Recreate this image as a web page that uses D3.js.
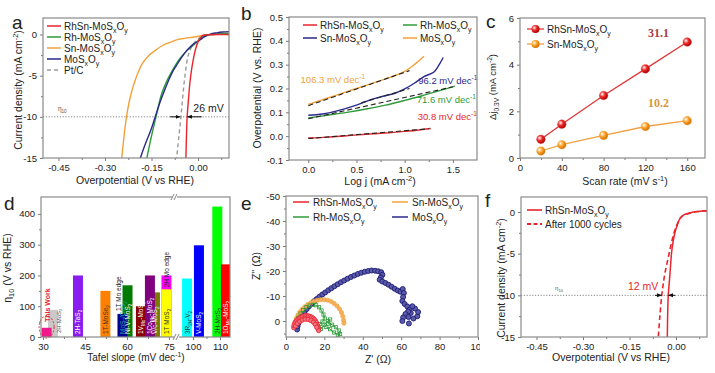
<!DOCTYPE html>
<html><head><meta charset="utf-8">
<script src="https://cdn.jsdelivr.net/npm/d3@7"></script>
<style>
body{margin:0;background:#fff;}
svg text{font-family:"Liberation Sans",Arial,sans-serif;fill:#222;}
</style></head><body>
<svg id="fig" width="715" height="373"></svg>
<script>
// ---------------- DATA ----------------
// panel a : LSV curves [V vs RHE, mA cm-2]
const namesA = ["RhSn-MoS_{x}O_{y}","Rh-MoS_{x}O_{y}","Sn-MoS_{x}O_{y}","MoS_{x}O_{y}","Pt/C"];
const lsvRhSn = [[0.1,0.0],[0.06,0.0],[0.03,-0.05],[0.015,-0.15],[0.008,-0.4],[0.0,-0.9],[-0.008,-1.8],[-0.015,-3.0],[-0.022,-4.6],[-0.027,-6.2],[-0.031,-8.0],[-0.035,-10.0],[-0.037,-12.0],[-0.039,-15.0]];
const lsvRh = [[0.1,0.15],[0.07,0.1],[0.04,0.0],[0.02,-0.15],[0.011,-0.4],[0.0,-0.8],[-0.015,-1.3],[-0.037,-2.0],[-0.06,-3.0],[-0.08,-4.2],[-0.1,-5.6],[-0.118,-7.3],[-0.133,-9.6],[-0.145,-11.5],[-0.155,-13.2],[-0.165,-15]];
const lsvSn = [[0.1,0.05],[0.05,0.0],[0.02,-0.1],[-0.011,-0.3],[-0.04,-0.45],[-0.064,-0.6],[-0.09,-0.95],[-0.117,-1.4],[-0.14,-2.0],[-0.16,-2.6],[-0.177,-3.4],[-0.191,-4.4],[-0.203,-5.6],[-0.213,-6.8],[-0.222,-8.2],[-0.229,-9.6],[-0.236,-11.5],[-0.241,-13.2],[-0.246,-15]];
const lsvMoS = [[0.1,0.35],[0.08,0.3],[0.06,0.2],[0.04,0.05],[0.02,-0.3],[0.005,-0.7],[-0.016,-1.2],[-0.035,-1.9],[-0.055,-2.9],[-0.07,-3.8],[-0.08,-4.4],[-0.095,-5.6],[-0.11,-7.0],[-0.125,-8.5],[-0.138,-10],[-0.152,-11.6],[-0.17,-13.3],[-0.186,-15]];
const lsvPt = [[0.1,0],[0.05,0],[0.02,-0.1],[0.005,-0.4],[-0.01,-0.9],[-0.021,-1.5],[-0.032,-2.6],[-0.042,-5],[-0.049,-7.5],[-0.055,-10],[-0.062,-12.5],[-0.069,-15]];
const ticksAx = [-0.45,-0.30,-0.15,0.00];
const ticksAy = [0,-5,-10,-15];
const eta10 = -10;
const gap26 = "26 mV";

// panel b : Tafel plots [log j, V]
const namesB = ["RhSn-MoS_{x}O_{y}","Rh-MoS_{x}O_{y}","Sn-MoS_{x}O_{y}","MoS_{x}O_{y}"];
const tafRhSn = [[0,-0.008],[0.2,-0.004],[0.4,0.002],[0.6,0.008],[0.8,0.013],[1.0,0.02],[1.15,0.026],[1.27,0.032]];
const tafRh = [[0,0.076],[0.2,0.088],[0.4,0.1],[0.6,0.114],[0.8,0.13],[1.0,0.15],[1.2,0.172],[1.4,0.195],[1.52,0.21]];
const tafSn = [[0,0.088],[0.15,0.093],[0.3,0.106],[0.5,0.13],[0.65,0.153],[0.75,0.165],[0.9,0.18],[1.0,0.198],[1.1,0.222],[1.2,0.25],[1.3,0.268],[1.35,0.295],[1.4,0.33]];
const tafMoS = [[0,0.133],[0.2,0.16],[0.4,0.187],[0.5,0.2],[0.6,0.213],[0.8,0.24],[1.0,0.272],[1.1,0.3],[1.2,0.335]];
const fitRhSn = [[0,-0.01],[1.25,0.031]];
const fitRh = [[0,0.073],[1.5,0.207]];
const fitSn = [[0.55,0.14],[1.05,0.2]];
const fitMoS = [[0,0.128],[1.05,0.275]];
const slopeLabels = ["30.8 mV dec^{-1}","71.6 mV dec^{-1}","96.2 mV dec^{-1}","106.3 mV dec^{-1}"];
const slopePos = [[1.135,0.068],[1.125,0.139],[1.14,0.219],[-0.08,0.223]];
const ticksBx = [0,0.5,1.0,1.5];
const ticksBy = [-0.1,0,0.1,0.2,0.3,0.4,0.5];

// panel c : double-layer
const namesC = ["RhSn-MoS_{x}O_{y}","Sn-MoS_{x}O_{y}"];
const scanRate = [20,40,80,120,160];
const djRhSn = [0.8,1.45,2.68,3.82,4.97];
const djSn = [0.3,0.57,0.97,1.35,1.6];
const cdlLabels = ["31.1","10.2"];
const ticksCx = [0,40,80,120,160];
const ticksCy = [0,2,4,6];

// panel d : comparison bars
const barLabels = ["2H-MoS_{2}","This Work","2H-TaS_{2}","1T-MoSe_{2}","Ni-V-MoS_{2}","MoS_{2}/CoS_{2}","1V_{Mo}-MoS_{2}","V/c-MoS_{2}","1Co_{Mo}-MoS_{2}","2H Mo edge","1T MoS_{2}","3R_{2H}-V_{2}","V-MoS_{2}","2H-MoS_{2}","1O_{Mo}-MoS_{2}"];
const barSlopes = [33.6,31.3,42.5,52.3,60.2,58.4,65,70,68.2,74.1,74.1,97.8,102.2,109,112.2];
const barEta = [88,30,200,150,168,75,100,145,200,200,155,190,298,424,236];
const barColors = ["#c9c9c9","#ee1a8c","#8b1cf0","#ff8000","#007a00","#00008f","#8b0000","#7a7a00","#800080","#ff00ff","#ffff00","#00ffff","#0000ff","#00ff00","#ff0000"];
const barTextColors = ["#555","#e8262d","#fff","#333","#fff","#2aa","#fff","#fff","#fff","#222","#333","#333","#fff","#333","#fff"];
const ticksDx = [30,45,60,75,100,110];
const ticksDy = [0,100,200,300,400];

// panel e : Nyquist [Z', Z'']
const namesE = ["RhSn-MoS_{x}O_{y}","Sn-MoS_{x}O_{y}","Rh-MoS_{x}O_{y}","MoS_{x}O_{y}"];
const nyqRhSn = [[4.0,2.6],[4.2,1.8],[4.5,1.0],[5.0,0.3],[5.6,-0.3],[6.3,-0.8],[7.0,-1.2],[7.8,-1.5],[8.6,-1.8],[9.4,-2.0],[10.2,-2.1],[11.0,-2.1],[11.8,-2.0],[12.6,-1.8],[13.4,-1.5],[14.1,-1.1],[14.8,-0.6],[15.4,0.0],[15.9,0.7],[16.3,1.5],[16.6,2.3],[16.8,3.1],[17.0,3.8],[5.0,2.0],[6.0,1.0],[7.2,0.2],[8.5,-0.4],[10.0,-0.7],[11.5,-0.6],[13.0,-0.2],[14.3,0.5],[15.3,1.4],[16.0,2.5]];
const nyqSn = [[4.4,1.5],[4.8,0.2],[5.4,-1.1],[6.2,-2.4],[7.2,-3.6],[8.4,-4.7],[9.8,-5.7],[11.3,-6.6],[12.9,-7.3],[14.6,-7.9],[16.4,-8.3],[18.2,-8.5],[20.0,-8.5],[21.8,-8.3],[23.5,-7.8],[25.1,-7.0],[26.6,-6.0],[27.9,-4.8],[28.9,-3.4],[29.6,-1.9],[30.0,-0.3],[30.2,0.9]];
const nyqRh = [[5.0,2.0],[5.5,0.5],[6.4,-1.3],[7.6,-3.0],[9.0,-4.4],[10.6,-5.5],[12.3,-6.2],[14.0,-6.5],[15.7,-6.3],[17.2,-5.5],[18.5,-4.2],[19.5,-2.6],[20.2,-1.0],[19.0,0.2],[17.6,1.2],[17.0,2.6],[18.2,3.2],[20.0,1.5],[21.8,0.0],[23.0,-0.6],[22.0,1.0],[24.0,1.5],[26.0,2.5],[27.5,3.8],[28.2,5.2],[27.0,5.6],[25.0,4.6],[23.0,3.3],[21.0,2.4]];
const nyqMoS = [[5.8,3.4],[6.0,2.2],[6.4,1.0],[7.0,-0.2],[7.8,-1.4],[8.7,-2.6],[9.7,-3.7],[10.8,-4.8],[12.0,-5.9],[13.3,-6.9],[14.6,-7.9],[16.0,-8.8],[17.4,-9.7],[18.9,-10.6],[20.4,-11.4],[22.0,-12.3],[23.6,-13.1],[25.2,-13.9],[26.9,-14.7],[28.6,-15.5],[30.3,-16.2],[32.0,-16.9],[33.8,-17.6],[35.6,-18.2],[37.4,-18.8],[39.2,-19.3],[41.0,-19.7],[42.8,-20.0],[44.6,-20.2],[46.4,-20.1],[48.0,-19.9],[49.6,-19.5],[50.2,-18.5],[49.4,-17.4],[48.8,-16.5],[50.2,-15.8],[51.8,-15.2],[53.4,-14.5],[55.0,-13.7],[56.6,-12.9],[58.2,-12.2],[59.6,-11.7],[60.8,-12.8],[61.4,-11.2],[61.0,-9.6],[60.6,-8.0],[61.8,-6.8],[63.2,-5.8],[64.4,-4.6],[65.0,-3.2],[63.6,-3.8],[62.2,-2.8],[61.0,-1.4],[60.6,0.0],[63.8,-1.6],[66.4,-1.0],[68.4,-1.9],[68.8,-3.6],[67.2,-5.0],[65.8,-5.9],[64.0,1.0]];
const ticksEx = [0,20,40,60,80,100];
const ticksEy = [-50,-40,-30,-20,-10,0];

// panel f : stability
const namesF = ["RhSn-MoS_{x}O_{y}","After 1000 cycles"];
const lsvInit = [[0.1,0.1],[0.09,0.15],[0.07,0.05],[0.05,-0.05],[0.04,-0.15],[0.025,-0.35],[0.013,-0.76],[0.005,-1.5],[-0.003,-2.4],[-0.009,-3.5],[-0.014,-4.8],[-0.019,-7.2],[-0.022,-8.6],[-0.025,-10],[-0.027,-12.5],[-0.028,-15]];
const lsv1000 = [[0.1,0.15],[0.07,0.05],[0.04,-0.2],[0.02,-0.5],[0.01,-1.0],[0.0,-1.8],[-0.008,-2.7],[-0.014,-3.6],[-0.024,-5.3],[-0.035,-7.2],[-0.041,-8.6],[-0.046,-10],[-0.052,-12.5],[-0.057,-15]];
const gap12 = "12 mV";

// ---------------- HELPERS ----------------
const cRed="#e8262d", cGreen="#2e9b3a", cOrange="#f0a23a", cNavy="#2a2a8c", cGray="#9a9a9a";
const svg = d3.select("#fig");
svg.append("rect").attr("width",715).attr("height",373).attr("fill","#fff");
const defs = svg.append("defs");
defs.append("marker").attr("id","arr").attr("viewBox","0 0 10 10").attr("refX",9).attr("refY",5)
  .attr("markerWidth",5).attr("markerHeight",5).attr("orient","auto")
  .append("path").attr("d","M0,1L10,5L0,9z").attr("fill","#111");
function grad(id,c1,c2){
  const g=defs.append("radialGradient").attr("id",id).attr("cx","35%").attr("cy","35%").attr("r","65%");
  g.append("stop").attr("offset","0%").attr("stop-color","#fff");
  g.append("stop").attr("offset","45%").attr("stop-color",c1);
  g.append("stop").attr("offset","100%").attr("stop-color",c2);
}
grad("gRed","#f03030","#b00000");
grad("gOr","#ffa830","#d07000");

function rich(t,s){
  const fs=parseFloat(t.attr("font-size"))||10;
  const parts=s.split(/([_^]\{[^}]*\})/).filter(p=>p!=="");
  let cur=0;
  parts.forEach(p=>{
    let off=0,txt=p,small=false;
    if(p.startsWith("_{")){off=fs*0.3;txt=p.slice(2,-1);small=true;}
    else if(p.startsWith("^{")){off=-fs*0.4;txt=p.slice(2,-1);small=true;}
    const ts=t.append("tspan").attr("dy",off-cur).text(txt);
    if(small) ts.attr("font-size",fs*0.7);
    cur=off;
  });
  return t;
}
function txt(g,x,y,s,o={}){
  const t=g.append("text").attr("x",x).attr("y",y).attr("font-size",o.fs||10)
    .attr("text-anchor",o.anchor||"start");
  if(o.fill) t.style("fill",o.fill);
  if(o.weight) t.attr("font-weight",o.weight);
  if(o.family) t.style("font-family",o.family);
  return rich(t,s);
}
function vtxt(g,x,y,s,o={}){
  const t=g.append("text").attr("transform",`translate(${x},${y}) rotate(-90)`).attr("font-size",o.fs||10)
    .attr("text-anchor",o.anchor||"middle");
  if(o.fill) t.style("fill",o.fill);
  if(o.weight) t.attr("font-weight",o.weight);
  return rich(t,s);
}
function styleAxis(a){
  a.select(".domain").remove();
  a.selectAll("line").attr("stroke","#777");
  a.selectAll("text").attr("font-size",9.5).style("font-family","'Liberation Sans',Arial,sans-serif").style("fill","#222");
}
function axes(g,x,y,o){
  const yb=Math.max(...y.range()), xl=Math.min(...x.range());
  styleAxis(g.append("g").attr("transform",`translate(0,${yb})`).call(d3.axisBottom(x).tickValues(o.xt).tickFormat(o.xf).tickSize(3).tickSizeOuter(0)));
  if(o.xm) styleAxis(g.append("g").attr("transform",`translate(0,${yb})`).call(d3.axisBottom(x).tickValues(o.xm).tickFormat("").tickSize(2).tickSizeOuter(0)));
  styleAxis(g.append("g").attr("transform",`translate(${xl},0)`).call(d3.axisLeft(y).tickValues(o.yt).tickFormat(o.yf).tickSize(3).tickSizeOuter(0)));
  if(o.ym) styleAxis(g.append("g").attr("transform",`translate(${xl},0)`).call(d3.axisLeft(y).tickValues(o.ym).tickFormat("").tickSize(2).tickSizeOuter(0)));
}
function frame(g,x,y){
  const [x0,x1]=d3.extent(x.range()),[y0,y1]=d3.extent(y.range());
  g.append("rect").attr("x",x0).attr("y",y0).attr("width",x1-x0).attr("height",y1-y0)
   .attr("fill","none").attr("stroke","#8a8a8a").attr("stroke-width",1.2);
}
let clipN=0;
function clip(g,x,y){
  const id="cl"+(clipN++);
  const [x0,x1]=d3.extent(x.range()),[y0,y1]=d3.extent(y.range());
  defs.append("clipPath").attr("id",id).append("rect").attr("x",x0).attr("y",y0).attr("width",x1-x0).attr("height",y1-y0);
  return g.append("g").attr("clip-path",`url(#${id})`);
}
const f2=d=>d.toFixed(2), f1=d=>d.toFixed(1), fI=d=>String(d);
function letter(x,y,s){svg.append("text").attr("x",x).attr("y",y).attr("font-size",19).text(s);}

// ---------------- PANEL A ----------------
{
  const g=svg.append("g");
  const x=d3.scaleLinear().domain([-0.5,0.1]).range([43,229]);
  const y=d3.scaleLinear().domain([-15,2]).range([158,18]);
  axes(g,x,y,{xt:ticksAx,xm:[-0.375,-0.225,-0.075,0.075],xf:f2,yt:ticksAy,ym:[-2.5,-7.5,-12.5],yf:fI});
  const p=clip(g,x,y);
  p.append("line").attr("x1",x(-0.5)).attr("x2",x(0.1)).attr("y1",y(eta10)).attr("y2",y(eta10))
    .attr("stroke","#777").attr("stroke-dasharray","1.2,1.6").attr("stroke-width",0.9);
  const ln=d3.line().x(d=>x(d[0])).y(d=>y(d[1])).curve(d3.curveCatmullRom.alpha(0.5));
  [[lsvPt,cGray,"4,3"],[lsvSn,cOrange],[lsvRh,cGreen],[lsvMoS,cNavy],[lsvRhSn,cRed]].forEach(([d,c,da])=>{
    p.append("path").attr("d",ln(d)).attr("fill","none").attr("stroke",c).attr("stroke-width",1.4).attr("stroke-dasharray",da||null);
  });
  [[-0.09,-0.058],[0.012,-0.034]].forEach(([a,b])=>{
    g.append("line").attr("x1",x(a)).attr("x2",x(b)).attr("y1",y(eta10)).attr("y2",y(eta10))
     .attr("stroke","#111").attr("stroke-width",1).attr("marker-end","url(#arr)");
  });
  txt(g,x(-0.015),y(-9.45),gap26,{fs:10.5});
  txt(g,x(-0.452),y(-9.3),"η_{10}",{fs:6.5,fill:"#555"});
  frame(g,x,y);
  const leg=[[cRed],[cGreen],[cOrange],[cNavy],[cGray,"4,3"]];
  namesA.forEach((n,i)=>{
    const yy=26+i*11;
    g.append("line").attr("x1",47).attr("x2",61).attr("y1",yy).attr("y2",yy).attr("stroke",leg[i][0]).attr("stroke-width",1.5).attr("stroke-dasharray",leg[i][1]||null);
    txt(g,64,yy+3.5,n,{fs:10});
  });
  txt(g,135,184,"Overpotential (V vs RHE)",{fs:10.5,anchor:"middle"});
  vtxt(g,22,90,"Current density (mA cm^{-2})",{fs:10.5});
  letter(12,29,"a");
}
// ---------------- PANEL B ----------------
{
  const g=svg.append("g");
  const x=d3.scaleLinear().domain([-0.2,1.75]).range([289,477]);
  const y=d3.scaleLinear().domain([-0.1,0.5]).range([160,17]);
  axes(g,x,y,{xt:ticksBx,xm:[0.25,0.75,1.25],xf:f1,yt:ticksBy,ym:[-0.05,0.05,0.15,0.25,0.35,0.45],yf:f1});
  const p=clip(g,x,y);
  const ln=d3.line().x(d=>x(d[0])).y(d=>y(d[1])).curve(d3.curveCatmullRom.alpha(0.5));
  [[tafRhSn,cRed,fitRhSn],[tafRh,cGreen,fitRh],[tafSn,cNavy,fitSn],[tafMoS,cOrange,fitMoS]].forEach(([d,c,f])=>{
    p.append("path").attr("d",ln(d)).attr("fill","none").attr("stroke",c).attr("stroke-width",1.4);
    p.append("path").attr("d",d3.line().x(d=>x(d[0])).y(d=>y(d[1]))(f)).attr("fill","none").attr("stroke","#222").attr("stroke-width",1.1).attr("stroke-dasharray","5,3");
  });
  const cs=[cRed,cGreen,cNavy,cOrange];
  slopeLabels.forEach((s,i)=>txt(g,x(slopePos[i][0]),y(slopePos[i][1]),s,{fs:9.5,fill:cs[i]}));
  frame(g,x,y);
  const lp=[[303,25],[403,25],[303,38],[403,38]];
  namesB.forEach((n,i)=>{
    g.append("line").attr("x1",lp[i][0]).attr("x2",lp[i][0]+14).attr("y1",lp[i][1]).attr("y2",lp[i][1]).attr("stroke",cs[i]).attr("stroke-width",1.5);
    txt(g,lp[i][0]+17,lp[i][1]+3.5,n,{fs:10});
  });
  txt(g,380,185,"Log j (mA cm^{-2})",{fs:10.5,anchor:"middle"});
  vtxt(g,261,88,"Overpotential (V vs. RHE)",{fs:10.5});
  letter(241,20,"b");
}
// ---------------- PANEL C ----------------
{
  const g=svg.append("g");
  const x=d3.scaleLinear().domain([0,177]).range([520,705]);
  const y=d3.scaleLinear().domain([0,6]).range([158,18]);
  axes(g,x,y,{xt:ticksCx,xm:[20,60,100,140],xf:fI,yt:ticksCy,ym:[1,3,5],yf:fI});
  const ln=d3.line().x((d,i)=>x(scanRate[i])).y(d=>y(d));
  [[djSn,"#f0a040","url(#gOr)"],[djRhSn,"#e03838","url(#gRed)"]].forEach(([d,c,gf])=>{
    g.append("path").attr("d",ln(d)).attr("fill","none").attr("stroke",c).attr("stroke-width",1.3);
    g.selectAll(null).data(d).enter().append("circle").attr("cx",(v,i)=>x(scanRate[i])).attr("cy",v=>y(v)).attr("r",4.3).attr("fill",gf).attr("stroke",c).attr("stroke-width",0.4);
  });
  txt(g,648,37,cdlLabels[0],{fs:12,weight:"bold",fill:"#a83c44",family:"'Liberation Serif','DejaVu Serif',serif"});
  txt(g,648,107,cdlLabels[1],{fs:12,weight:"bold",fill:"#d8973a",family:"'Liberation Serif','DejaVu Serif',serif"});
  frame(g,x,y);
  [[29,"#e03838","url(#gRed)"],[44,"#f0a040","url(#gOr)"]].forEach(([yy,c,gf],i)=>{
    g.append("line").attr("x1",527).attr("x2",544).attr("y1",yy).attr("y2",yy).attr("stroke",c).attr("stroke-width",1.3);
    g.append("circle").attr("cx",535.5).attr("cy",yy).attr("r",4).attr("fill",gf);
    txt(g,547,yy+3.5,namesC[i],{fs:10});
  });
  txt(g,625,185,"Scan rate (mV s^{-1})",{fs:10.5,anchor:"middle"});
  vtxt(g,496,87,"Δj_{0.3V} (mA cm^{-2})",{fs:9.5});
  letter(486,28,"c");
}
// ---------------- PANEL D ----------------
{
  const g=svg.append("g");
  const x=d3.scaleLinear().domain([29.3,76.8,93.7,113.7]).range([41,174,176,230]);
  const y=d3.scaleLinear().domain([0,455]).range([337,197]);
  axes(g,x,y,{xt:ticksDx,xm:[37.5,52.5,67.5,105],xf:fI,yt:ticksDy,ym:[50,150,250,350],yf:fI});
  const p=clip(g,x,y);
  const bw=10;
  const order=[0,1,2,3,4,5,6,7,8,9,10,11,12,13,14];
  order.forEach(i=>{
    p.append("rect").attr("x",x(barSlopes[i])-bw/2).attr("y",y(barEta[i])).attr("width",bw).attr("height",y(0)-y(barEta[i])).attr("fill",barColors[i]);
  });
  order.forEach(i=>{
    const cx=x(barSlopes[i]);
    if(i===0){ vtxt(g,cx+7.5,333,barLabels[i],{fs:6,anchor:"start",fill:barTextColors[i]}); return; }
    if(i===1){ vtxt(g,cx+3,322,barLabels[i],{fs:7,anchor:"start",fill:barTextColors[i],weight:"bold"}); return; }
    if(i===9){ vtxt(g,cx+2.5,y(155)-2,barLabels[i],{fs:6.5,anchor:"start",fill:barTextColors[i]}); return; }
    vtxt(g,cx+2.5,y(0)-3,barLabels[i],{fs:6.5,anchor:"start",fill:barTextColors[i]});
  });
  vtxt(g,x(58.4)-1,y(78)-2,"1T Mo edge",{fs:6.5,anchor:"start"});
  g.append("ellipse").attr("cx",x(31.3)).attr("cy",327).attr("rx",7.5).attr("ry",11).attr("fill","none").attr("stroke",cRed).attr("stroke-width",1).attr("stroke-dasharray","2,1.5");
  frame(g,x,y);
  [[174,197],[176,337]].forEach(([bx,by])=>{
    g.append("rect").attr("x",bx-2).attr("y",by-2).attr("width",5).attr("height",4).attr("fill","#fff");
    [-1.5,1.5].forEach(o=>g.append("line").attr("x1",bx+o-1.5).attr("x2",bx+o+1.5).attr("y1",by+3).attr("y2",by-3).attr("stroke","#777").attr("stroke-width",0.9));
  });
  txt(g,136,361,"Tafel slope (mV dec^{-1})",{fs:10,anchor:"middle"});
  vtxt(g,11,268,"η_{10} (V vs RHE)",{fs:10.5});
  letter(4,210,"d");
}
// ---------------- PANEL E ----------------
{
  const pc=clip(svg,d3.scaleLinear().range([236,480]),d3.scaleLinear().range([186,373]));
  const g=pc.append("g");
  const x=d3.scaleLinear().domain([0,100]).range([286,478]);
  const y=d3.scaleLinear().domain([6.4,-50]).range([337,196]);
  axes(g,x,y,{xt:ticksEx,xm:[10,30,50,70,90],xf:fI,yt:ticksEy,ym:[-45,-35,-25,-15,-5,5],yf:fI});
  const p=clip(g,x,y);
  const ln=d3.line().x(d=>x(d[0])).y(d=>y(d[1]));
  p.append("path").attr("d",ln(nyqMoS)).attr("fill","none").attr("stroke","#8888bb").attr("stroke-width",0.6);
  p.append("path").attr("d",ln(nyqRh)).attr("fill","none").attr("stroke",cGreen).attr("stroke-width",1);
  p.selectAll(null).data(nyqMoS).enter().append("circle").attr("cx",d=>x(d[0])).attr("cy",d=>y(d[1])).attr("r",2.5).attr("fill","#5a5aa6").attr("stroke","#1c1c78").attr("stroke-width",0.9);
  p.selectAll(null).data(nyqSn).enter().append("circle").attr("cx",d=>x(d[0])).attr("cy",d=>y(d[1])).attr("r",2.1).attr("fill","#f4b060").attr("stroke",cOrange).attr("stroke-width",0.7);
  p.selectAll(null).data(nyqRh).enter().append("rect").attr("x",d=>x(d[0])-1.6).attr("y",d=>y(d[1])-1.6).attr("width",3.2).attr("height",3.2).attr("fill","none").attr("stroke",cGreen).attr("stroke-width",0.8);
  p.selectAll(null).data(nyqRhSn).enter().append("circle").attr("cx",d=>x(d[0])).attr("cy",d=>y(d[1])).attr("r",2.2).attr("fill","#f27080").attr("stroke",cRed).attr("stroke-width",0.8);
  frame(g,x,y);
  const cs=[cRed,cOrange,cGreen,cNavy];
  const lp=[[293,202],[392,202],[293,217],[392,217]];
  namesE.forEach((n,i)=>{
    g.append("line").attr("x1",lp[i][0]).attr("x2",lp[i][0]+16).attr("y1",lp[i][1]).attr("y2",lp[i][1]).attr("stroke",cs[i]).attr("stroke-width",1.5);
    txt(g,lp[i][0]+20,lp[i][1]+3.5,n,{fs:10});
  });
  txt(g,378,363,"Z' (Ω)",{fs:10.5,anchor:"middle"});
  vtxt(g,260,266,"Z'' (Ω)",{fs:10.5});
  letter(241,210,"e");
}
// ---------------- PANEL F ----------------
{
  const g=svg.append("g");
  const x=d3.scaleLinear().domain([-0.5,0.1]).range([521,707]);
  const y=d3.scaleLinear().domain([-15,1.8]).range([337,197]);
  axes(g,x,y,{xt:ticksAx,xm:[-0.375,-0.225,-0.075,0.075],xf:f2,yt:ticksAy,ym:[-2.5,-7.5,-12.5],yf:fI});
  const p=clip(g,x,y);
  p.append("line").attr("x1",x(-0.5)).attr("x2",x(0.1)).attr("y1",y(eta10)).attr("y2",y(eta10))
    .attr("stroke","#777").attr("stroke-dasharray","1.2,1.6").attr("stroke-width",0.9);
  const ln=d3.line().x(d=>x(d[0])).y(d=>y(d[1])).curve(d3.curveCatmullRom.alpha(0.5));
  p.append("path").attr("d",ln(lsv1000)).attr("fill","none").attr("stroke",cRed).attr("stroke-width",1.6).attr("stroke-dasharray","5,3");
  p.append("path").attr("d",ln(lsvInit)).attr("fill","none").attr("stroke",cRed).attr("stroke-width",1.5);
  [[-0.068,-0.047],[-0.003,-0.024]].forEach(([a,b])=>{
    g.append("line").attr("x1",x(a)).attr("x2",x(b)).attr("y1",y(eta10)).attr("y2",y(eta10))
     .attr("stroke","#111").attr("stroke-width",1).attr("marker-end","url(#arr)");
  });
  txt(g,x(-0.155),y(-9.4),gap12,{fs:10.5,fill:cRed});
  txt(g,x(-0.39),y(-9.4),"η_{10}",{fs:6,fill:"#555"});
  frame(g,x,y);
  g.append("line").attr("x1",527).attr("x2",542).attr("y1",210).attr("y2",210).attr("stroke",cRed).attr("stroke-width",1.6);
  g.append("line").attr("x1",527).attr("x2",542).attr("y1",224).attr("y2",224).attr("stroke",cRed).attr("stroke-width",1.8).attr("stroke-dasharray","4,2.5");
  txt(g,545,213.5,namesF[0],{fs:10});
  txt(g,545,227.5,namesF[1],{fs:10});
  txt(g,611,361,"Overpotential (V vs RHE)",{fs:10.5,anchor:"middle"});
  vtxt(g,505,278,"Current density (mA cm^{-2})",{fs:10.5});
  letter(485,207,"f");
}
</script></body></html>
